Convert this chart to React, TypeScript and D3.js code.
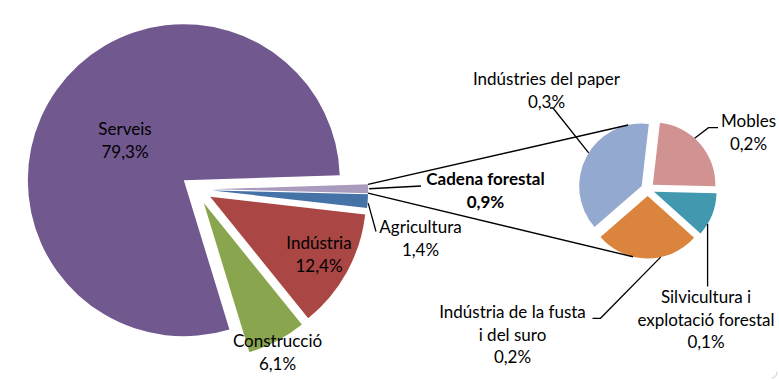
import React from 'react';
import * as d3 from 'd3';

const mainCategories = ['Cadena forestal', 'Agricultura', 'Indústria', 'Construcció', 'Serveis'];
const mainValues = [0.9, 1.4, 12.4, 6.1, 79.3];
const mainColors = ['#A99BBD', '#4572A7', '#AA4643', '#89A54E', '#71588F'];

const subCategories = ['Indústries del paper', 'Mobles', 'Silvicultura i explotació forestal', 'Indústria de la fusta i del suro'];
const subValues = [0.34, 0.21, 0.10, 0.24];
const subColors = ['#93A9CF', '#D19392', '#4198AF', '#DB843D'];

const W = 779;
const H = 380;
const deg = Math.PI / 180;

const fmt = (v: number) => d3.format('.1f')(v).replace('.', ',') + '%';

const MAIN = { cx: 196.5, cy: 189.3, r: 156, explode: 15.6, start: 88.2 * deg };
const SUB = { cx: 647.7, cy: 189.2, r: 62.5, explode: 6.8, start: 229 * deg };

function offsetOf(a0: number, a1: number, e: number) {
  const m = (a0 + a1) / 2;
  return [Math.sin(m) * e, -Math.cos(m) * e];
}

const FONT = 'Lato, "Open Sans", sans-serif';
const FS = 17;
const LH = 22.5;

type LabelSpec = { lines: string[]; x: number; y: number; bold?: boolean };

export default function App() {
  const mainPie = d3.pie<number>().sort(null).startAngle(MAIN.start).endAngle(MAIN.start + 2 * Math.PI)(mainValues);
  const subPie = d3.pie<number>().sort(null).startAngle(SUB.start).endAngle(SUB.start + 2 * Math.PI)(subValues);
  const mainArc = d3.arc<d3.PieArcDatum<number>>().innerRadius(0).outerRadius(MAIN.r);
  const subArc = d3.arc<d3.PieArcDatum<number>>().innerRadius(0).outerRadius(SUB.r);

  const mainSlices = mainPie.map((p, i) => {
    const [ox, oy] = offsetOf(p.startAngle, p.endAngle, MAIN.explode);
    return { p, i, cx: MAIN.cx + ox, cy: MAIN.cy + oy };
  });
  const subSlices = subPie.map((p, i) => {
    const [ox, oy] = offsetOf(p.startAngle, p.endAngle, SUB.explode);
    return { p, i, cx: SUB.cx + ox, cy: SUB.cy + oy };
  });

  const pt = (cx: number, cy: number, r: number, a: number) => [cx + Math.sin(a) * r, cy - Math.cos(a) * r];

  // connector lines from the "other" slice (Cadena forestal) to the secondary pie
  const other = mainSlices[0];
  const upStart = pt(other.cx, other.cy, MAIN.r, other.p.startAngle);
  const lowStart = pt(other.cx, other.cy, MAIN.r, other.p.endAngle);
  const paper = subSlices[0];
  const fusta = subSlices[3];
  const upEnd = pt(paper.cx, paper.cy, SUB.r, -12.5 * deg);
  const lowEnd = pt(fusta.cx, fusta.cy, SUB.r, 193.5 * deg);

  const agri = mainSlices[1];
  const agriOuter = pt(agri.cx, agri.cy, MAIN.r, agri.p.endAngle - 0.3 * deg);
  const otherMid = pt(other.cx, other.cy, MAIN.r, (other.p.startAngle + other.p.endAngle) / 2);

  const mobles = subSlices[1];
  const moblesPt = pt(mobles.cx, mobles.cy, SUB.r, 42 * deg);
  const silv = subSlices[2];
  const silvPt = pt(silv.cx, silv.cy, SUB.r, 121 * deg);
  const fustaPt = pt(fusta.cx, fusta.cy, SUB.r, 168 * deg);
  const paperPt = pt(paper.cx, paper.cy, SUB.r, 302 * deg);

  const labels: LabelSpec[] = [
    { lines: [mainCategories[4], fmt(mainValues[4])], x: 125, y: 135 },
    { lines: [mainCategories[2], fmt(mainValues[2])], x: 319, y: 249 },
    { lines: [mainCategories[3], fmt(mainValues[3])], x: 277.5, y: 347 },
    { lines: [mainCategories[1], fmt(mainValues[1])], x: 420.5, y: 233 },
    { lines: [mainCategories[0], fmt(mainValues[0])], x: 485.5, y: 185, bold: true },
    { lines: [subCategories[0], fmt(subValues[0])], x: 546.5, y: 85 },
    { lines: [subCategories[1], fmt(subValues[1])], x: 748.5, y: 127 },
    { lines: ['Silvicultura i', 'explotació forestal', fmt(subValues[2])], x: 706, y: 303 },
    { lines: ['Indústria de la fusta', 'i del suro', fmt(subValues[3])], x: 512.5, y: 318 },
  ];

  const leaders: number[][][] = [
    [[otherMid[0] + 1, otherMid[1]], [421, 186]],
    [[agriOuter[0] + 1, agriOuter[1] - 4], [376, 231.5]],
    [[550, 108], [553, 108], paperPt],
    [[718, 127.7], [708.5, 127.7], moblesPt],
    [silvPt, [silvPt[0], 286.5]],
    [[592.5, 318.3], [600.5, 318.3], fustaPt],
  ];

  const line = d3.line();

  return (
    <svg width={W} height={H} style={{ position: 'absolute', left: 0, top: 0, background: '#fff' }} fontFamily={FONT}>
      <rect width={W} height={H} fill="#fff" />
      {mainSlices.map(({ p, i, cx, cy }) => (
        <path key={'m' + i} d={mainArc(p) || ''} transform={`translate(${cx},${cy})`} fill={mainColors[i]} />
      ))}
      {subSlices.map(({ p, i, cx, cy }) => (
        <path key={'s' + i} d={subArc(p) || ''} transform={`translate(${cx},${cy})`} fill={subColors[i]} />
      ))}
      <path d={line([upStart as [number, number], upEnd as [number, number]]) || ''} stroke="#000" strokeWidth={1.4} fill="none" />
      <path d={line([lowStart as [number, number], lowEnd as [number, number]]) || ''} stroke="#000" strokeWidth={1.4} fill="none" />
      {leaders.map((l, i) => (
        <path key={'l' + i} d={line(l as [number, number][]) || ''} stroke="#000" strokeWidth={1.3} fill="none" />
      ))}
      {labels.map((lab, i) => (
        <text key={'t' + i} x={lab.x} y={lab.y} textAnchor="middle" fontSize={FS} fill="#000" fontWeight={lab.bold ? 700 : 400}>
          {lab.lines.map((s, j) => (
            <tspan key={j} x={lab.x} y={lab.y + j * LH}>{s}</tspan>
          ))}
        </text>
      ))}
      <path d="M 777 372 Q 777 377 772 378" stroke="#ccc" strokeWidth={1} fill="none" />
    </svg>
  );
}
